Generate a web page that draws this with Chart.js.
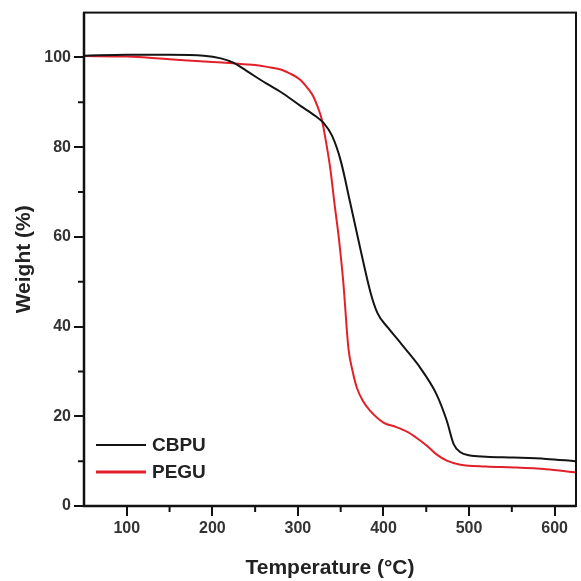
<!DOCTYPE html>
<html>
<head>
<meta charset="utf-8">
<script src="https://cdn.jsdelivr.net/npm/chart.js@4"></script>
<style>
  html, body { margin: 0; padding: 0; background: #fff; }
  #wrap { width: 581px; height: 581px; }
</style>
</head>
<body>
<div id="wrap"><canvas id="tga"></canvas></div>
<script>
// TGA curves
const cbpuTemp   = [50, 100, 150, 190, 210, 225, 240, 263, 280, 303, 320, 330, 340, 350, 361, 373, 385, 393, 405, 418, 430, 443, 462, 474, 482, 490, 500, 520, 552, 590, 624];
const cbpuWeight = [100.4, 100.6, 100.6, 100.4, 99.8, 98.8, 97.0, 94.2, 92.3, 89.2, 87.0, 85.4, 82.5, 77.0, 67.7, 57.3, 47.5, 43.0, 39.8, 36.8, 34.0, 30.8, 24.9, 19.0, 13.8, 12.0, 11.3, 11.0, 10.8, 10.5, 10.0];

const peguTemp   = [50, 100, 150, 200, 224, 250, 264, 280, 291, 303, 312, 318, 324, 328, 333, 338, 343, 347.5, 353, 359, 364, 369, 376, 384.5, 400, 415, 428, 440, 451, 462, 474, 490, 520, 552, 590, 624];
const peguWeight = [100.3, 100.2, 99.6, 99.0, 98.7, 98.3, 97.9, 97.3, 96.4, 95.0, 93.0, 91.3, 88.5, 86.1, 81.0, 75.0, 67.0, 60.3, 50.0, 35.2, 30.0, 26.3, 23.4, 21.2, 18.6, 17.6, 16.5, 15.0, 13.4, 11.5, 10.1, 9.2, 8.8, 8.6, 8.2, 7.5];

const seriesNames = ['CBPU', 'PEGU'];
const seriesColors = ['#141414', '#e2202a'];

const xMajor = [100, 200, 300, 400, 500, 600];
const xMinor = [150, 250, 350, 450, 550];
const yMajor = [0, 20, 40, 60, 80, 100];
const yMinor = [10, 30, 50, 70, 90];

const FONT = "'Liberation Sans', Arial, sans-serif";

function toPoints(xs, ys) {
    return xs.map((x, i) => ({ x: x, y: ys[i] }));
}

// frame, minor ticks and inner legend
const framePlugin = {
    id: 'frame',
    afterDraw(chart) {
        const ctx = chart.ctx;
        const a = chart.chartArea;
        const xs = chart.scales.x;
        const ys = chart.scales.y;
        ctx.save();
        ctx.strokeStyle = '#111';
        ctx.lineWidth = 2;
        ctx.strokeRect(a.left, a.top, a.right - a.left, a.bottom - a.top);
        ctx.lineWidth = 2.5;
        ctx.beginPath();
        ctx.moveTo(a.left, a.top);
        ctx.lineTo(a.left, a.bottom);
        ctx.lineTo(a.right, a.bottom);
        ctx.stroke();

        ctx.lineWidth = 2;
        ctx.beginPath();
        xMinor.forEach(v => {
            const px = xs.getPixelForValue(v);
            ctx.moveTo(px, a.bottom);
            ctx.lineTo(px, a.bottom + 6);
        });
        yMinor.forEach(v => {
            const py = ys.getPixelForValue(v);
            ctx.moveTo(a.left, py);
            ctx.lineTo(a.left - 6, py);
        });
        ctx.stroke();

        // legend in the lower left corner
        ctx.font = 'bold 19px ' + FONT;
        ctx.textBaseline = 'middle';
        ctx.fillStyle = '#222';
        chart.data.datasets.forEach((ds, i) => {
            const ly = a.bottom - 61 + i * 27;
            ctx.strokeStyle = ds.borderColor;
            ctx.lineWidth = i === 1 ? 3 : 2;
            ctx.beginPath();
            ctx.moveTo(a.left + 12, ly);
            ctx.lineTo(a.left + 62, ly);
            ctx.stroke();
            ctx.fillText(ds.label, a.left + 68, ly + 1);
        });
        ctx.restore();
    }
};

const chart = new Chart(document.getElementById('tga'), {
    type: 'line',
    data: {
        datasets: [
            {
                label: seriesNames[0],
                data: toPoints(cbpuTemp, cbpuWeight),
                borderColor: seriesColors[0],
                borderWidth: 2,
                pointRadius: 0,
                cubicInterpolationMode: 'monotone',
                fill: false
            },
            {
                label: seriesNames[1],
                data: toPoints(peguTemp, peguWeight),
                borderColor: seriesColors[1],
                borderWidth: 2,
                pointRadius: 0,
                cubicInterpolationMode: 'monotone',
                fill: false
            }
        ]
    },
    options: {
        responsive: true,
        maintainAspectRatio: false,
        animation: false,
        layout: { padding: { left: 0, right: 5, top: 10, bottom: 0 } },
        plugins: {
            legend: { display: false },
            tooltip: { enabled: false }
        },
        scales: {
            x: {
                type: 'linear',
                min: 50,
                max: 625,
                afterBuildTicks: scale => { scale.ticks = xMajor.map(v => ({ value: v })); },
                afterFit: scale => { scale.height = 75; },
                grid: { drawOnChartArea: false, drawTicks: true, tickLength: 10, color: '#111', lineWidth: 2 },
                border: { display: false },
                ticks: { color: '#333', padding: 3, maxRotation: 0, font: { family: FONT, size: 16, weight: 'bold' } },
                title: {
                    display: true,
                    text: 'Temperature (°C)',
                    color: '#222',
                    padding: { top: 12, bottom: 0 },
                    font: { family: FONT, size: 21, weight: 'bold' }
                }
            },
            y: {
                min: 0,
                max: 110,
                afterBuildTicks: scale => { scale.ticks = yMajor.map(v => ({ value: v })); },
                afterFit: scale => { scale.width = 84; },
                grid: { drawOnChartArea: false, drawTicks: true, tickLength: 10, color: '#111', lineWidth: 2 },
                border: { display: false },
                ticks: { color: '#333', padding: 3, font: { family: FONT, size: 16, weight: 'bold' } },
                title: {
                    display: true,
                    text: 'Weight (%)',
                    color: '#222',
                    padding: { top: 12, bottom: 0 },
                    font: { family: FONT, size: 21, weight: 'bold' }
                }
            }
        }
    },
    plugins: [framePlugin]
});
</script>
</body>
</html>
